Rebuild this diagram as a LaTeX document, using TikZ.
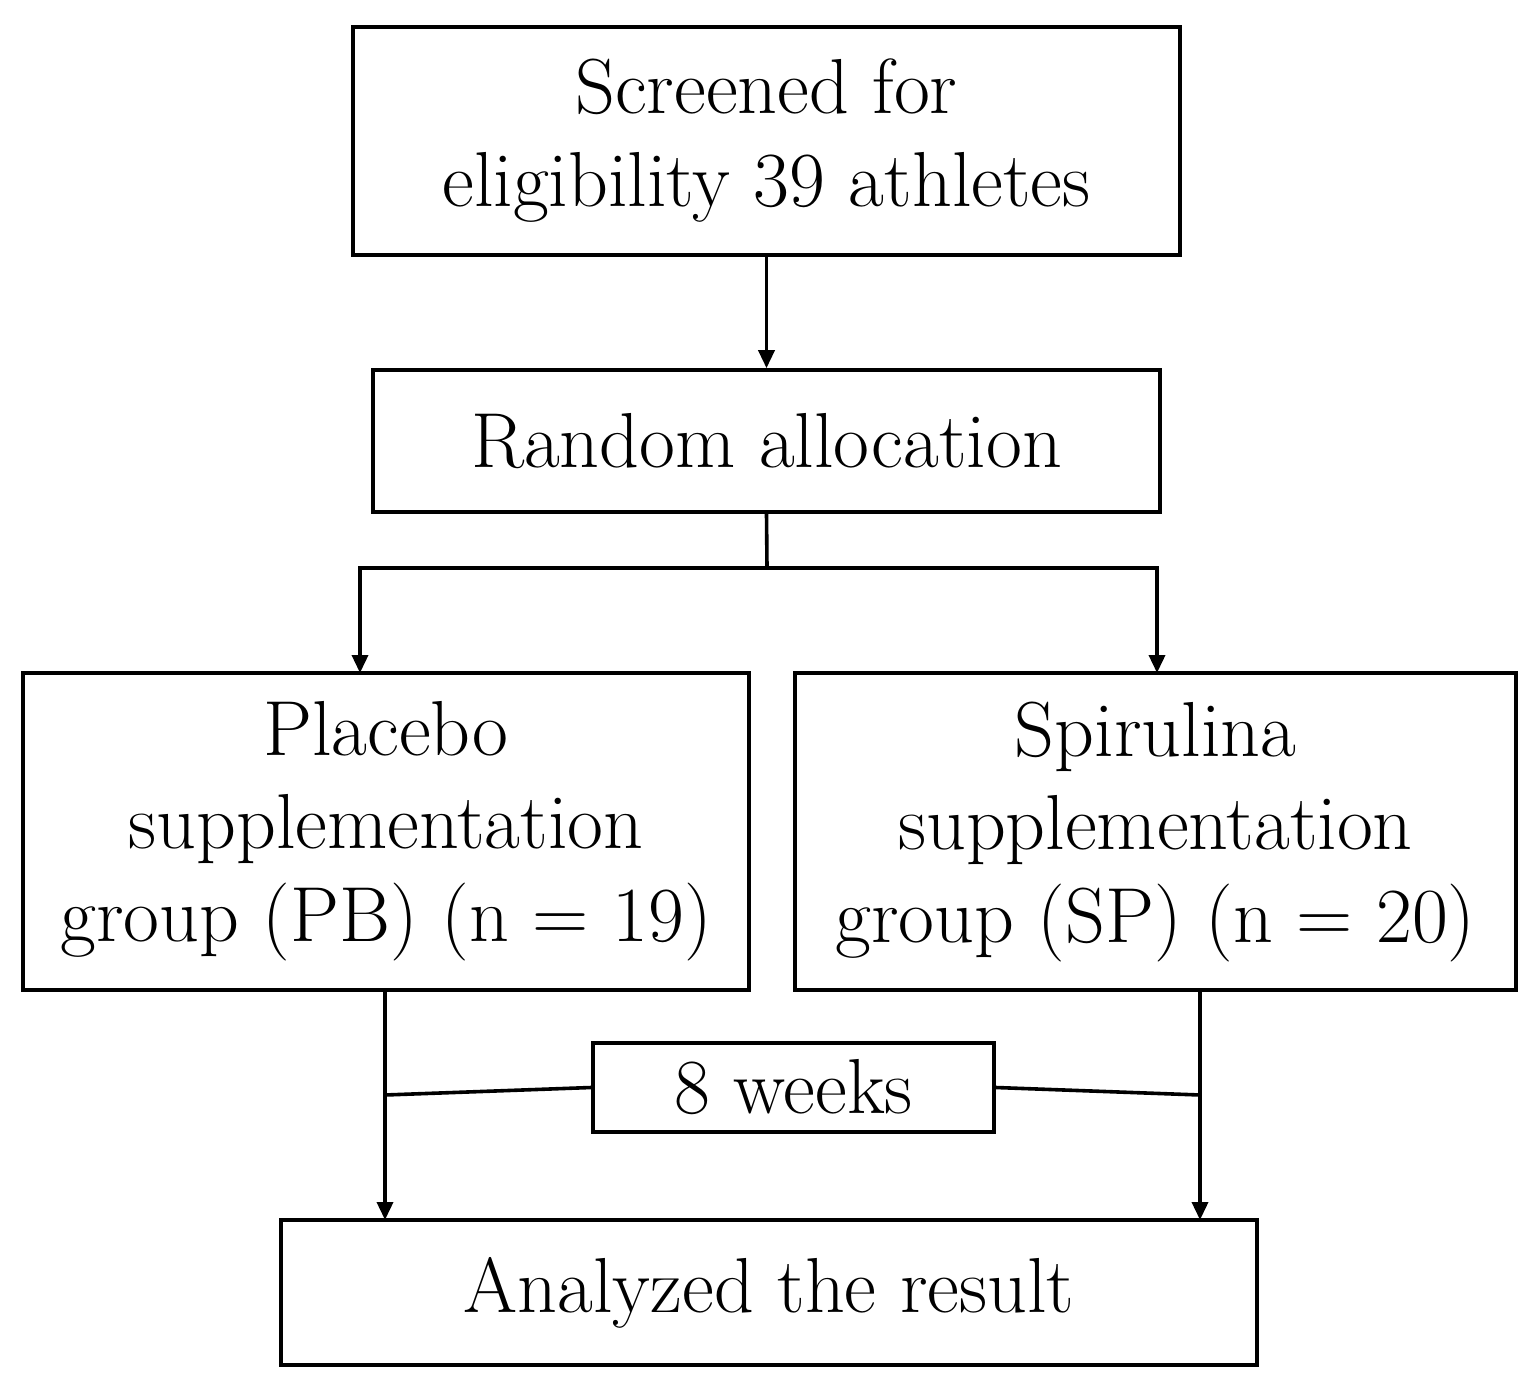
\documentclass[tikz,border=0pt]{standalone}
\usepackage{mathpazo}
\usetikzlibrary{arrows.meta}
\begin{document}
\begin{tikzpicture}[x=0.5pt,y=-0.5pt,
  box/.style={draw,line width=1.8pt,inner sep=0pt,align=center,font=\fontsize{39}{46.5}\selectfont},
  arr/.style={line width=1.8pt,-{Triangle[length=9pt,width=8pt]}},
  ln/.style={line width=1.8pt}]
\useasboundingbox (0,0) rectangle (1536,1390);
\node[box,minimum width=413.5pt,minimum height=114pt] (scr) at (766.5,141) {Screened for\\eligibility 39 athletes};
\node[box,minimum width=393.5pt,minimum height=71pt] (ran) at (766.5,441) {Random allocation};
\node[box,minimum width=363pt,minimum height=158.5pt] (pb) at (386,831.5) {Placebo\\supplementation\\group (PB) (n = 19)};
\node[box,minimum width=360.5pt,minimum height=158.5pt] (sp) at (1155.5,831.5) {Spirulina\\supplementation\\group (SP) (n = 20)};
\node[box,minimum width=200.5pt,minimum height=44.5pt] (wk) at (793.5,1087.5) {8 weeks};
\node[box,minimum width=488pt,minimum height=72.5pt] (res) at (769,1292.5) {Analyzed the result};
\coordinate (j) at (767,568);
\draw[arr] (scr.south) -- (ran.north);
\draw[ln] (ran.south) -- (j);
\draw[arr] (j) -| (360,673);
\draw[arr] (j) -| (1157,673);
\draw[arr] (385,990) -- (385,1220);
\draw[arr] (1200,990) -- (1200,1220);
\draw[ln] (385,1095) -- (wk.west);
\draw[ln] (wk.east) -- (1200,1095);
\end{tikzpicture}
\end{document}
